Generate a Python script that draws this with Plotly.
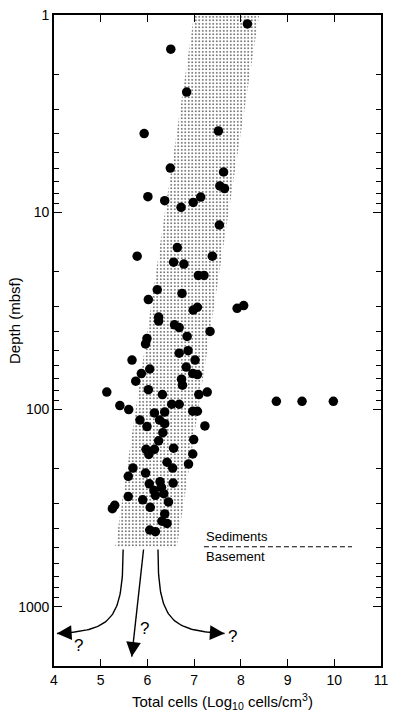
import numpy as np
import plotly.graph_objects as go

# ---------------- data ----------------
cells = [8.14, 6.50, 6.84, 5.93, 7.52, 6.49, 7.63, 7.55, 7.65, 6.01,
         6.37, 6.72, 6.98, 7.14, 7.54, 6.64, 5.78, 7.39, 6.56, 6.78,
         7.09, 7.21, 6.21, 6.74, 6.02, 6.98, 7.07, 7.92, 8.06, 6.24,
         6.24, 6.58, 6.68, 7.34, 6.85, 5.99, 5.96, 6.87, 6.68, 5.67,
         7.02, 6.05, 5.87, 6.83, 6.97, 7.07, 5.75, 6.73, 6.75, 5.13,
         6.02, 6.32, 7.10, 7.28, 5.41, 5.60, 6.52, 6.68, 6.15, 6.37,
         6.97, 7.07, 5.84, 6.26, 6.37, 5.99, 7.23, 6.33, 6.99, 6.24,
         5.97, 6.15, 6.56, 6.97, 6.03, 6.42, 6.54, 6.88, 5.69, 5.59,
         5.96, 6.04, 6.27, 6.55, 6.14, 6.30, 6.35, 6.17, 5.59, 5.90,
         6.45, 5.30, 5.25, 6.06, 6.37, 6.31, 6.42, 6.05, 6.17,
         8.76, 9.31, 9.98]
depth = [1.11, 1.49, 2.46, 3.99, 3.87, 5.97, 6.25, 7.35, 7.58, 8.34,
         8.74, 9.44, 8.91, 8.37, 11.6, 15.1, 16.7, 16.7, 17.9, 18.3,
         20.9, 20.9, 24.7, 25.8, 27.7, 31.3, 30.3, 30.7, 29.7, 34.0,
         35.6, 37.2, 38.4, 40.2, 42.6, 43.7, 46.5, 50.3, 51.8, 56.1,
         56.1, 62.3, 65.7, 60.9, 65.7, 66.5, 71.8, 70.2, 75.2, 81.5,
         79.3, 84.0, 84.0, 81.5, 95.5, 100, 94.0, 94.0, 104, 103,
         102, 102, 113, 113, 118, 122, 121, 131, 142, 144,
         159, 159, 157, 168, 169, 185, 198, 189, 198, 218,
         210, 238, 232, 236, 257, 248, 267, 272, 276, 287,
         294, 306, 318, 313, 338, 368, 378, 408, 416,
         90.8, 90.8, 90.8]

# envelope band (x at top-left, top-right, bottom-right, bottom-left)
band_x = [7.00, 8.39, 6.63, 5.31, 7.00]
band_depth = [1, 1, 500, 500, 1]

# sediment / basement boundary
boundary_x = [7.21, 10.38]
boundary_depth = [496, 496]

# arrows: control points (x, depth)
arrow_left = [(5.48, 512), (5.48, 1175), (5.226, 1318), (4.063, 1365)]
arrow_right = [(6.226, 512), (6.22, 1175), (6.495, 1318), (7.651, 1365)]
arrow_mid = [(5.917, 512), (5.664, 1790)]
qmarks = [(4.535, 1565), (5.939, 1290), (7.827, 1415)]

x_ticks = [4, 5, 6, 7, 8, 9, 10, 11]
y_ticks = [1, 10, 100, 1000]
y_minor = [m * 10 ** e for e in range(0, 4) for m in range(2, 10)]

FONT = "Liberation Sans, Arial, Helvetica, sans-serif"

fig = go.Figure()

fig.add_trace(go.Scatter(
    x=band_x, y=band_depth, mode="lines", fill="toself",
    line=dict(width=0, color="rgba(0,0,0,0)"),
    fillcolor="white",
    fillpattern=dict(shape=".", size=3.5, solidity=0.14, fgcolor="#000000",
                     bgcolor="white", fillmode="replace"),
    hoverinfo="skip", showlegend=False))


def bezier(pts, n=60):
    t = np.linspace(0, 1, n)
    px = np.array([p[0] for p in pts])
    pl = np.log10(np.array([p[1] for p in pts]))
    b = [(1 - t) ** 3, 3 * (1 - t) ** 2 * t, 3 * (1 - t) * t ** 2, t ** 3]
    xs = sum(b[i] * px[i] for i in range(4))
    ls = sum(b[i] * pl[i] for i in range(4))
    return xs, 10 ** ls


for pts in (arrow_left, arrow_right):
    xs, ys = bezier(pts)
    fig.add_trace(go.Scatter(x=xs, y=ys, mode="lines",
                             line=dict(color="black", width=1.4),
                             hoverinfo="skip", showlegend=False))
fig.add_trace(go.Scatter(x=[p[0] for p in arrow_mid], y=[p[1] for p in arrow_mid],
                         mode="lines", line=dict(color="black", width=1.4),
                         hoverinfo="skip", showlegend=False))

fig.add_trace(go.Scatter(x=boundary_x, y=boundary_depth, mode="lines",
                         line=dict(color="black", width=1, dash="5px,3px"),
                         hoverinfo="skip", showlegend=False))

fig.add_trace(go.Scatter(x=cells, y=depth, mode="markers",
                         marker=dict(color="black", size=9.5, line=dict(width=0)),
                         showlegend=False))

ann = []
# arrowheads
for tip, (ax, ay) in ((arrow_left[-1], (16, -1)), (arrow_right[-1], (-16, -1)),
                      (arrow_mid[-1], (2, -16))):
    ann.append(dict(x=tip[0], y=np.log10(tip[1]), xref="x", yref="y", text="",
                    showarrow=True, arrowhead=2, arrowsize=2.1, arrowwidth=1.4,
                    arrowcolor="black", ax=ax, ay=ay))
for qx, qd in qmarks:
    ann.append(dict(x=qx, y=np.log10(qd), xref="x", yref="y", text="?",
                    showarrow=False, font=dict(family=FONT, size=17, color="black")))
ann.append(dict(x=boundary_x[0], y=np.log10(boundary_depth[0]), xref="x", yref="y",
                text="Sediments", showarrow=False, xanchor="left", yanchor="middle",
                yshift=10, font=dict(family=FONT, size=13, color="black")))
ann.append(dict(x=boundary_x[0], y=np.log10(boundary_depth[0]), xref="x", yref="y",
                text="Basement", showarrow=False, xanchor="left", yanchor="middle",
                yshift=-10, font=dict(family=FONT, size=13, color="black")))
ann.append(dict(x=0.515, y=0, xref="paper", yref="paper", yanchor="middle",
                yshift=-35, showarrow=False,
                text="Total cells (Log<sub>10</sub> cells/cm<sup>3</sup>)",
                font=dict(family=FONT, size=15, color="black")))
ann.append(dict(x=0, y=0.53, xref="paper", yref="paper", xanchor="center",
                yanchor="middle", xshift=-39, textangle=-90, showarrow=False,
                text="Depth (mbsf)", font=dict(family=FONT, size=15, color="black")))

fig.update_layout(
    width=395, height=713, autosize=False,
    margin=dict(l=54, r=10, t=7, b=47, pad=0),
    plot_bgcolor="white", paper_bgcolor="white",
    font=dict(family=FONT, size=14, color="black"),
    annotations=ann,
    xaxis=dict(range=[4, 11], tickvals=x_ticks, ticks="inside", ticklen=7,
               tickwidth=1.2, tickcolor="black", showline=True, linewidth=1.6,
               linecolor="black", mirror="allticks", showgrid=False,
               zeroline=False, tickfont=dict(size=14)),
    yaxis=dict(type="log", range=[3.3, 0], tickvals=y_ticks,
               ticktext=[str(v) for v in y_ticks], ticks="inside", ticklen=8,
               tickwidth=1.2, tickcolor="black", showline=True, linewidth=1.6,
               linecolor="black", mirror="allticks", showgrid=False,
               zeroline=False, tickfont=dict(size=14),
               minor=dict(tickmode="array", tickvals=y_minor, ticks="inside",
                          ticklen=5, tickwidth=1.2, tickcolor="black",
                          showgrid=False)),
)

fig.write_html("out.html", config={"displayModeBar": False},
               post_script="document.body.style.margin='0';document.body.style.padding='0';")
